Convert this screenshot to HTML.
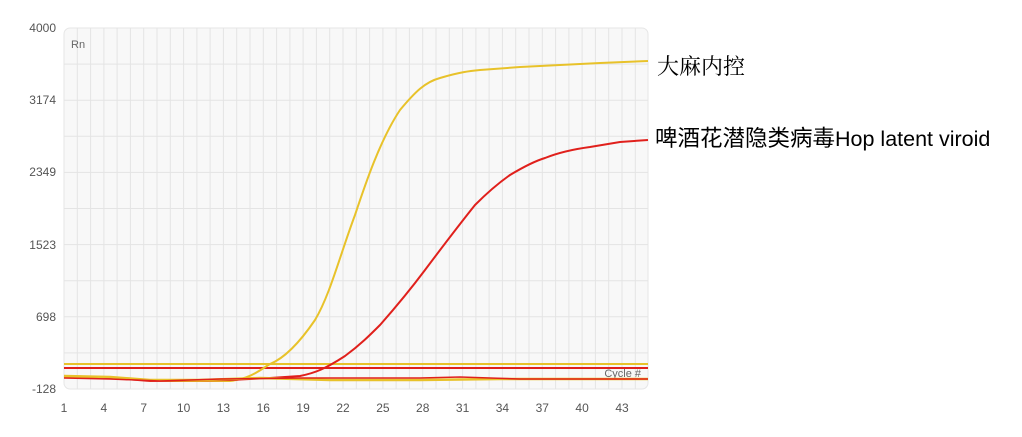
<!DOCTYPE html>
<html><head><meta charset="utf-8"><style>
body{margin:0;background:#fff;width:1022px;height:432px;overflow:hidden}
</style></head><body>
<svg width="1022" height="432" xmlns="http://www.w3.org/2000/svg" font-family="Liberation Sans, sans-serif">
<rect x="64" y="28" width="584" height="361" rx="6" fill="#f8f8f8" stroke="#e6e6e6"/>
<g stroke="#e4e4e4" stroke-width="1">
<path d="M64,64.1H648M64,100.2H648M64,136.3H648M64,172.4H648M64,208.5H648M64,244.6H648M64,280.7H648M64,316.8H648M64,352.9H648"/>
<path d="M77.3,28V389M90.6,28V389M103.9,28V389M117.1,28V389M130.4,28V389M143.7,28V389M157,28V389M170.3,28V389M183.6,28V389M196.9,28V389M210.1,28V389M223.4,28V389M236.7,28V389M250,28V389M263.3,28V389M276.6,28V389M289.9,28V389M303.1,28V389M316.4,28V389M329.7,28V389M343,28V389M356.3,28V389M369.6,28V389M382.9,28V389M396.1,28V389M409.4,28V389M422.7,28V389M436,28V389M449.3,28V389M462.6,28V389M475.9,28V389M489.1,28V389M502.4,28V389M515.7,28V389M529,28V389M542.3,28V389M555.6,28V389M568.9,28V389M582.1,28V389M595.4,28V389M608.7,28V389M622,28V389M635.3,28V389"/>
</g>
<g font-size="12" fill="#555" text-anchor="end">
<text x="56" y="32">4000</text><text x="56" y="104">3174</text><text x="56" y="176">2349</text>
<text x="56" y="249">1523</text><text x="56" y="321">698</text><text x="56" y="393">-128</text>
</g>
<g font-size="12" fill="#555" text-anchor="middle">
<text x="64" y="412">1</text><text x="103.9" y="412">4</text><text x="143.7" y="412">7</text><text x="183.6" y="412">10</text><text x="223.4" y="412">13</text><text x="263.3" y="412">16</text><text x="303.1" y="412">19</text><text x="343" y="412">22</text><text x="382.9" y="412">25</text><text x="422.7" y="412">28</text><text x="462.6" y="412">31</text><text x="502.4" y="412">34</text><text x="542.3" y="412">37</text><text x="582.1" y="412">40</text><text x="622" y="412">43</text>
</g>
<text x="71" y="48" font-size="11" fill="#666">Rn</text>
<text x="641" y="377" font-size="11" fill="#666" text-anchor="end">Cycle #</text>
<line x1="64" x2="648" y1="364" y2="364" stroke="#e8c22a" stroke-width="2"/>
<line x1="64" x2="648" y1="368" y2="368" stroke="#e0201c" stroke-width="2"/>
<path d="M64,377 L100,377 C120,378 140,380 170,381 L230,381 C250,379 260,370 270,364 C285,358 300,342 315,320 C330,295 340,255 355,215 C365,185 380,140 400,110 C415,92 425,82 440,78 C460,72 470,71 480,70 L520,67 L560,65 L600,63 L648,61" fill="none" stroke="#e8c22a" stroke-width="2"/>
<path d="M64,376 L100,377 L150,381 L230,380 L270,378 L300,376 C315,373 325,369 345,356 C360,345 370,335 380,325 C395,308 410,290 425,270 C440,250 455,230 475,205 C490,190 500,182 510,175 C525,166 535,161 545,158 C560,152 575,149 590,147 L620,142 L648,140" fill="none" stroke="#e0201c" stroke-width="2"/>
<path d="M64,376 L110,377 L150,380 L200,380 L260,378 L330,380 L420,380 L500,379 L560,379 L648,379" fill="none" stroke="#e8c22a" stroke-width="2.5"/>
<path d="M64,378 L110,379 L160,381 L220,379 L300,378 L420,378 L460,377 L520,379 L648,379" fill="none" stroke="#e0201c" stroke-width="1.5"/>
<text x="657" y="74" font-size="22" font-family="Noto Serif CJK SC, serif" fill="#000">大麻内控</text>
<text x="655" y="146" fill="#000"><tspan font-size="22.5" font-family="Noto Sans CJK SC, sans-serif">啤酒花潜隐类病毒</tspan><tspan font-size="21.5" font-family="Liberation Sans, sans-serif">Hop latent viroid</tspan></text>
</svg>
</body></html>
